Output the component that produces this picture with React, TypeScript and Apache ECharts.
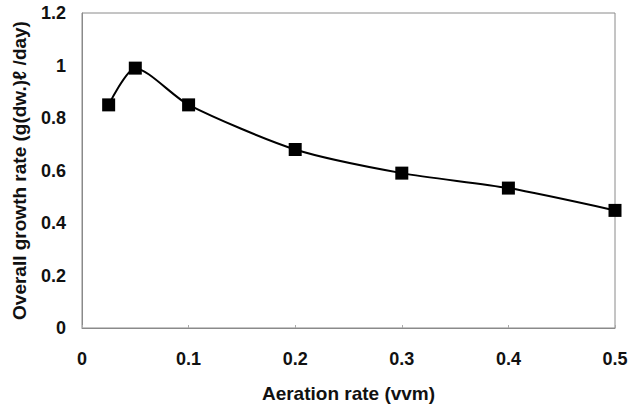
import React, { useEffect, useRef } from "react";
import * as echarts from "echarts";

const xValues = [0.025, 0.05, 0.1, 0.2, 0.3, 0.4, 0.5];
const yValues = [0.85, 0.99, 0.85, 0.68, 0.59, 0.533, 0.448];
const xTitle = "Aeration rate (vvm)";
const yTitle = "Overall growth rate (g(dw.)ℓ /day)";

export default function App() {
  const ref = useRef<HTMLDivElement>(null);
  useEffect(() => {
    if (!ref.current) return;
    const chart = echarts.init(ref.current, undefined, { renderer: "svg" });
    const font = "'Liberation Sans', Arial, sans-serif";
    chart.setOption({
      animation: false,
      backgroundColor: "#ffffff",
      grid: {
        left: 82,
        right: 16,
        top: 13,
        bottom: 79,
        show: true,
        borderColor: "#8a8a8a",
        borderWidth: 1,
        outerBoundsMode: "none",
        containLabel: false,
      },
      xAxis: {
        type: "value",
        min: 0,
        max: 0.5,
        interval: 0.1,
        name: xTitle,
        nameLocation: "middle",
        nameGap: 56,
        nameTextStyle: { fontFamily: font, fontWeight: "bold", fontSize: 19, color: "#111" },
        axisLine: { show: true, lineStyle: { color: "#8a8a8a", width: 1 } },
        axisTick: { show: true, inside: true, length: 3, lineStyle: { color: "#aaa" } },
        splitLine: { show: false },
        axisLabel: {
          fontFamily: font,
          fontWeight: "bold",
          fontSize: 18,
          color: "#111",
          margin: 22,
          formatter: (v: number) => String(Math.round(v * 10) / 10),
        },
      },
      yAxis: {
        type: "value",
        min: 0,
        max: 1.2,
        interval: 0.2,
        name: yTitle,
        nameLocation: "middle",
        nameGap: 53,
        nameTextStyle: { fontFamily: font, fontWeight: "bold", fontSize: 19, color: "#111" },
        axisLine: { show: true, lineStyle: { color: "#8a8a8a", width: 1 } },
        axisTick: { show: false },
        splitLine: { show: false },
        axisLabel: {
          fontFamily: font,
          fontWeight: "bold",
          fontSize: 18,
          color: "#111",
          margin: 16,
          formatter: (v: number) => String(Math.round(v * 10) / 10),
        },
      },
      series: [
        {
          type: "line",
          data: xValues.map((x, i) => [x, yValues[i]]),
          smooth: 0.25,
          symbol: "rect",
          symbolSize: 13,
          lineStyle: { color: "#000", width: 2 },
          itemStyle: { color: "#000" },
        },
      ],
    });
    return () => chart.dispose();
  }, []);
  return (
    <div
      ref={ref}
      style={{ position: "fixed", left: 0, top: 0, width: 631, height: 407 }}
    />
  );
}
